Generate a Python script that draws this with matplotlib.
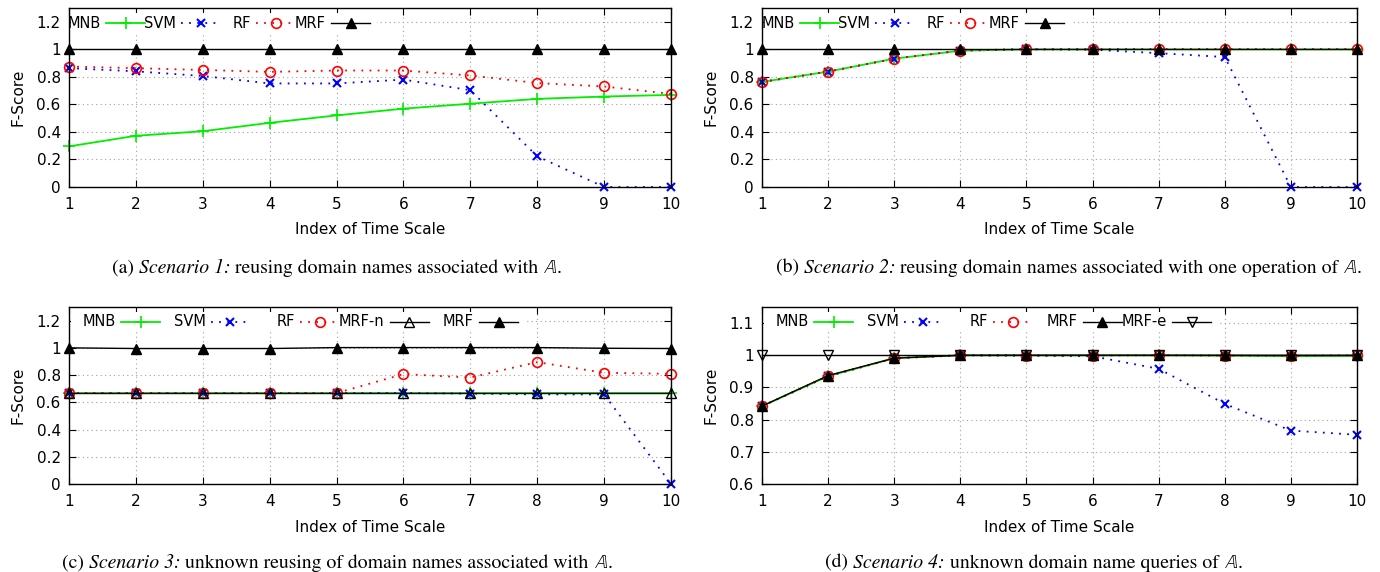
import matplotlib
matplotlib.use("Agg")
import matplotlib.pyplot as plt
from matplotlib.lines import Line2D
from matplotlib.patches import Rectangle
import matplotlib.transforms as mtransforms

# ---------------- data ----------------
x_idx = [1, 2, 3, 4, 5, 6, 7, 8, 9, 10]

# (a) Scenario 1
a_mnb = [0.295, 0.372, 0.405, 0.466, 0.520, 0.569, 0.605, 0.640, 0.657, 0.669]
a_svm = [0.863, 0.840, 0.806, 0.752, 0.752, 0.780, 0.703, 0.223, 0.0, 0.0]
a_rf = [0.875, 0.863, 0.850, 0.836, 0.846, 0.846, 0.810, 0.755, 0.730, 0.676]
a_mrf = [1.0, 1.0, 1.0, 1.0, 1.0, 1.0, 1.0, 1.0, 1.0, 1.0]

# (b) Scenario 2
b_mnb = [0.763, 0.838, 0.932, 0.990, 1.0, 1.0, 1.0, 1.0, 1.0, 1.0]
b_svm = [0.763, 0.838, 0.932, 0.990, 1.0, 0.997, 0.972, 0.944, 0.0, 0.0]
b_rf = [0.763, 0.838, 0.932, 0.990, 1.003, 1.003, 1.003, 1.003, 1.003, 1.003]
b_mrf = [1.0, 1.0, 1.0, 1.0, 1.0, 1.0, 1.0, 1.0, 1.0, 1.0]

# (c) Scenario 3
c_mnb = [0.668, 0.668, 0.668, 0.668, 0.668, 0.668, 0.668, 0.668, 0.668, 0.668]
c_svm = [0.668, 0.668, 0.668, 0.668, 0.668, 0.668, 0.664, 0.658, 0.658, 0.0]
c_rf = [0.668, 0.668, 0.668, 0.668, 0.668, 0.807, 0.782, 0.895, 0.817, 0.809]
c_mrfn = [0.668, 0.668, 0.668, 0.668, 0.668, 0.668, 0.668, 0.668, 0.668, 0.668]
c_mrf = [1.0, 0.995, 0.995, 0.995, 1.002, 1.002, 1.002, 1.002, 0.997, 0.995]

# (d) Scenario 4
d_mnb = [0.842, 0.935, 0.991, 1.0, 1.0, 1.0, 1.0, 0.999, 0.997, 0.998]
d_svm = [0.842, 0.935, 0.991, 1.0, 0.999, 0.997, 0.958, 0.849, 0.766, 0.753]
d_rf = [0.842, 0.935, 0.990, 1.0, 0.999, 0.999, 1.0, 0.999, 0.998, 1.0]
d_mrf = [0.842, 0.937, 0.991, 1.0, 1.0, 1.0, 1.0, 1.0, 1.0, 1.0]
d_mrfe = [1.0, 1.0, 1.0, 1.0, 1.0, 1.0, 1.0, 1.0, 1.0, 1.0]

captions = [
    ("(a) ", "Scenario 1:", " reusing domain names associated with "),
    ("(b) ", "Scenario 2:", " reusing domain names associated with one operation of "),
    ("(c) ", "Scenario 3:", " unknown reusing of domain names associated with "),
    ("(d) ", "Scenario 4:", " unknown domain name queries of "),
]
xlabel_text = "Index of Time Scale"
ylabel_text = "F-Score"

# ---------------- style ----------------
plt.rcParams["font.family"] = ["DejaVu Sans"]
plt.rcParams["mathtext.fontset"] = "stix"
TICK_FS = 11
KEY_FS = 10.5
CAP_FS = 14.2

GREEN = "#00ee00"
BLUE = "#0000ff"
RED = "#ff0000"
BLACK = "#000000"

styles = {
    "MNB": dict(color=GREEN, ls="-", lw=1.3, marker="+", ms=8, mew=1.2, mfc=GREEN),
    "SVM": dict(color=BLUE, ls=(0, (1, 3.5)), lw=1.3, marker="x", ms=5.5, mew=1.5, mfc=BLUE),
    "RF": dict(color=RED, ls=(0, (1, 3.5)), lw=1.3, marker="o", ms=7, mew=1.2, mfc="none"),
    "MRF": dict(color=BLACK, ls="-", lw=1.0, marker="^", ms=7, mew=1.0, mfc=BLACK),
    "MRF-n": dict(color=BLACK, ls="-", lw=1.0, marker="^", ms=7, mew=1.0, mfc="none"),
    "MRF-e": dict(color=BLACK, ls="-", lw=1.0, marker="v", ms=7, mew=1.0, mfc="none"),
}

W, H = 1380, 572
fig = plt.figure(figsize=(W / 100, H / 100), dpi=100)

panels = [
    dict(box=(69, 8, 671, 187), ylim=(0, 1.3), yticks=[0, 0.2, 0.4, 0.6, 0.8, 1.0, 1.2],
         series=[("MNB", a_mnb), ("SVM", a_svm), ("RF", a_rf), ("MRF", a_mrf)],
         colw=75, first_right=32, cap_x=337, cap_y=268),
    dict(box=(762, 8, 1357, 187), ylim=(0, 1.3), yticks=[0, 0.2, 0.4, 0.6, 0.8, 1.0, 1.2],
         series=[("MNB", b_mnb), ("SVM", b_svm), ("RF", b_rf), ("MRF", b_mrf)],
         colw=75, first_right=33, cap_x=1069, cap_y=268),
    dict(box=(69, 307, 671, 484), ylim=(0, 1.3), yticks=[0, 0.2, 0.4, 0.6, 0.8, 1.0, 1.2],
         series=[("MNB", c_mnb), ("SVM", c_svm), ("RF", c_rf), ("MRF-n", c_mrfn), ("MRF", c_mrf)],
         colw=89.5, first_right=47, cap_x=337, cap_y=563),
    dict(box=(762, 307, 1357, 484), ylim=(0.6, 1.15), yticks=[0.6, 0.7, 0.8, 0.9, 1.0, 1.1],
         series=[("MNB", d_mnb), ("SVM", d_svm), ("RF", d_rf), ("MRF", d_mrf), ("MRF-e", d_mrfe)],
         colw=89.5, first_right=47, cap_x=1034, cap_y=563),
]


def fmt(v):
    s = ("%.1f" % v).rstrip("0").rstrip(".")
    return s if s else "0"


renderer = fig.canvas.get_renderer()

for i, p in enumerate(panels):
    l, t, r, b = p["box"]
    ax = fig.add_axes([l / W, 1 - b / H, (r - l) / W, (b - t) / H])
    for name, vals in p["series"]:
        ax.plot(x_idx, vals, label=name, clip_on=False, zorder=3, **styles[name])
    ax.set_xlim(1, 10)
    ax.set_ylim(*p["ylim"])
    ax.set_xticks(x_idx)
    ax.set_xticklabels([str(v) for v in x_idx])
    ax.set_yticks(p["yticks"])
    ax.set_yticklabels([fmt(v) for v in p["yticks"]])
    ax.tick_params(direction="in", top=True, right=True, length=5, width=0.8,
                   labelsize=TICK_FS, colors="black")
    ax.tick_params(axis="x", pad=7)
    ax.tick_params(axis="y", pad=6)
    ax.set_axisbelow(True)
    ax.grid(True, color="#a0a0a0", linestyle=(0, (1, 3)), linewidth=0.8)
    for sp in ax.spines.values():
        sp.set_linewidth(1.0)
        sp.set_zorder(4)

    # gnuplot-style key: label (right aligned) then line sample
    T = mtransforms.Affine2D() + mtransforms.ScaledTranslation(0, 1, ax.transAxes)
    yk = -15
    n = len(p["series"])
    last_end = p["first_right"] + (n - 1) * p["colw"] + 6 + 39
    ax.add_artist(Rectangle((1.5, yk - 10), last_end + 4, 20, transform=T,
                            facecolor="white", edgecolor="none", zorder=2.2))
    for k, (name, _) in enumerate(p["series"]):
        xr = p["first_right"] + k * p["colw"]
        ax.text(xr, yk, name, transform=T, ha="right", va="center",
                fontsize=KEY_FS, zorder=5)
        st = styles[name]
        x0, x1 = xr + 5, xr + 44
        ax.add_artist(Line2D([x0, x1], [yk, yk], transform=T, color=st["color"],
                             ls=st["ls"], lw=st["lw"], zorder=5, clip_on=False))
        ax.add_artist(Line2D([(x0 + x1) / 2], [yk], transform=T, color=st["color"],
                             ls="none", marker=st["marker"], ms=st["ms"], mew=st["mew"],
                             mfc=st["mfc"], zorder=5, clip_on=False))

    # axis labels
    fig.text(((l + r) / 2) / W, 1 - (b + 43) / H, xlabel_text, ha="center", va="center",
             fontsize=TICK_FS)
    fig.text((l - 51) / W, 1 - ((t + b) / 2) / H, ylabel_text, ha="center", va="center",
             rotation=90, fontsize=TICK_FS)

    # caption, built from pieces (upright / italic / upright / double-struck A)
    c0, c1, c2 = captions[i]
    pieces = [(c0, "normal"), (c1, "italic"), (c2, "normal"), (r"$\mathbb{A}$.", "normal")]
    arts = []
    for txt, sty in pieces:
        a = fig.text(0, 1 - p["cap_y"] / H, txt, ha="left", va="baseline",
                     fontsize=CAP_FS, family="STIXGeneral", style=sty)
        arts.append(a)
    widths = [a.get_window_extent(renderer).width for a in arts]
    total = sum(widths)
    xstart = p["cap_x"] - total / 2
    for a, w in zip(arts, widths):
        a.set_x(xstart / W)
        a.set_y(1 - (p["cap_y"] + 5) / H)
        xstart += w

fig.savefig("out.png", dpi=100)
